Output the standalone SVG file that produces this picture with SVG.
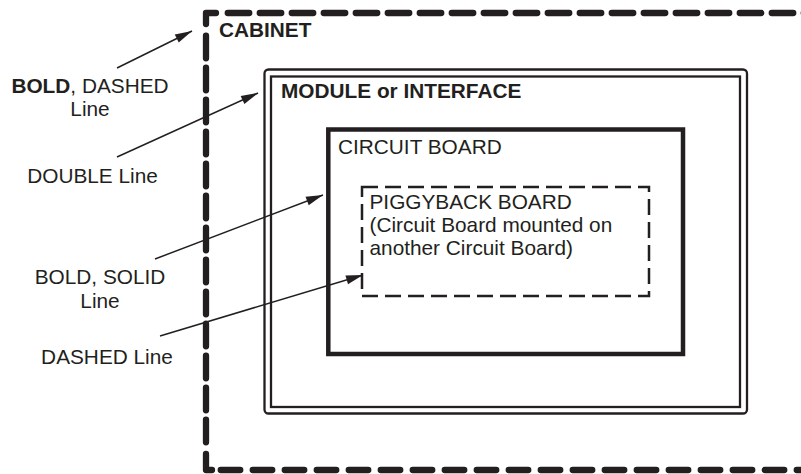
<svg xmlns="http://www.w3.org/2000/svg" width="801" height="474" viewBox="0 0 801 474">
<style>
  .t { font-family: "Liberation Sans", Arial, sans-serif; font-size: 20.8px; fill: #231f20; }
  .b { font-weight: bold; }
  .cab { fill: none; stroke: #231f20; stroke-width: 6.3; stroke-linecap: round; stroke-linejoin: round; }
  .thin { fill: none; stroke: #231f20; stroke-width: 2.3; }
  .conn line { stroke: #231f20; stroke-width: 1.5; }
</style>
<defs>
  <marker id="ah" markerUnits="userSpaceOnUse" markerWidth="20" markerHeight="12" viewBox="-18 -6 19 12" refX="0" refY="0" orient="auto">
    <path d="M0,0 L-17,-4.5 L-17,4.5 z" fill="#231f20"/>
  </marker>
</defs>
<rect width="801" height="474" fill="#ffffff"/>
<g id="cabinet">
  <path class="cab" d="M206,24 L206,13 L216,13"/>
  <path class="cab" d="M227.75,13 L810,13" stroke-dasharray="21.5 10.5"/>
  <path class="cab" d="M206,35.75 L206,442.25" stroke-dasharray="22.5 9.5"/>
  <path class="cab" d="M206,454 L206,470 L212,470"/>
  <path class="cab" d="M220.75,470 L810,470" stroke-dasharray="19.5 12.5"/>
  <text class="t b" x="219" y="37">CABINET</text>
</g>
<g id="module">
  <rect class="thin" x="264.5" y="69.5" width="482.5" height="344" rx="4"/>
  <rect class="thin" x="271" y="76.5" width="469" height="330.5"/>
  <text class="t b" x="281" y="98">MODULE or INTERFACE</text>
</g>
<g id="circuit-board">
  <rect x="328.3" y="129.5" width="354.7" height="224.5" fill="none" stroke="#231f20" stroke-width="4.5"/>
  <text class="t" x="338" y="154">CIRCUIT BOARD</text>
</g>
<g id="piggyback-board">
  <rect x="362" y="187" width="287" height="109" fill="none" stroke="#231f20" stroke-width="2.5" stroke-dasharray="16 7"/>
  <text class="t" x="369.5" y="209">PIGGYBACK BOARD</text>
  <text class="t" x="369.5" y="232">(Circuit Board mounted on</text>
  <text class="t" x="369.5" y="255">another Circuit Board)</text>
</g>
<g id="labels">
  <text class="t" x="90" y="93" text-anchor="middle"><tspan class="b">BOLD</tspan>, DASHED</text>
  <text class="t" x="90" y="115.5" text-anchor="middle">Line</text>
  <text class="t" x="92.5" y="183" text-anchor="middle">DOUBLE Line</text>
  <text class="t" x="100" y="284" text-anchor="middle">BOLD, SOLID</text>
  <text class="t" x="100" y="308" text-anchor="middle">Line</text>
  <text class="t" x="107" y="364" text-anchor="middle">DASHED Line</text>
</g>
<g id="connectors" class="conn">
  <line x1="117" y1="68" x2="192" y2="31" marker-end="url(#ah)"/>
  <line x1="117" y1="157" x2="258" y2="93" marker-end="url(#ah)"/>
  <line x1="155" y1="259" x2="323" y2="195" marker-end="url(#ah)"/>
  <line x1="160" y1="336" x2="363" y2="275" marker-end="url(#ah)"/>
</g>
</svg>
